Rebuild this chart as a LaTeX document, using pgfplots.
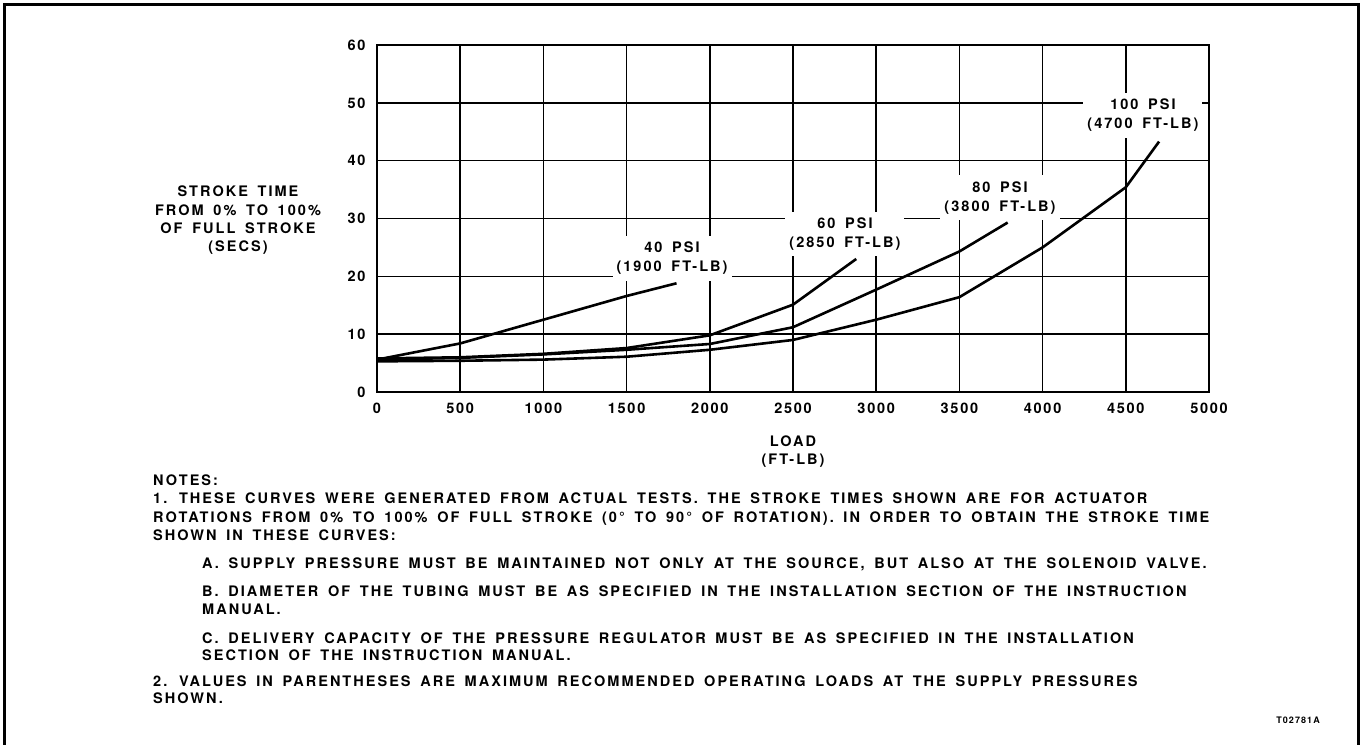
\documentclass[border=0pt]{standalone}
\usepackage{fontspec}
\setmainfont{TeX Gyre Heros}[LetterSpace=14, WordSpace=1.6]
\newfontfamily\tickfont{TeX Gyre Heros}[LetterSpace=12]
\usepackage{pgfplots}
\pgfplotsset{compat=1.18}

\begin{document}
\begin{tikzpicture}[x=1pt,y=1pt]
\useasboundingbox (0,0) rectangle (1362,744);
% frame of the figure (no bottom edge)
\draw[line width=3pt] (4,-5) -- (4,739) -- (1358,739) -- (1358,-5);

\begin{axis}[
  at={(377pt,352pt)}, anchor=south west,
  scale only axis, width=832pt, height=347pt,
  xmin=0, xmax=5000, ymin=0, ymax=60,
  xtick={0,500,...,5000}, ytick={0,10,...,60},
  grid=major, major grid style={black, line width=1.5pt},
  axis line style={line width=1.8pt},
  major tick length=0pt,
  scaled x ticks=false,
  /pgf/number format/assume math mode=true,
  /pgf/number format/set thousands separator={},
  tick label style={font=\fontsize{14.5pt}{16pt}\tickfont\bfseries},
  xticklabel style={yshift=-7pt},
  yticklabel style={xshift=-8pt},
  clip=false,
]
% 40 PSI
\addplot[black, line width=2.6pt, line join=round, no markers] coordinates {(0,5.6) (500,8.4) (1500,16.6) (1800,18.8)};
% 60 PSI
\addplot[black, line width=2.6pt, line join=round, no markers] coordinates {(0,5.8) (500,6.0) (1000,6.6) (1500,7.6) (2000,9.8) (2500,15.1) (2880,23.0)};
% 80 PSI
\addplot[black, line width=2.6pt, line join=round, no markers] coordinates {(0,5.6) (500,5.9) (1000,6.5) (1500,7.3) (2000,8.3) (2500,11.2) (3000,17.7) (3500,24.3) (3790,29.3)};
% 100 PSI
\addplot[black, line width=2.6pt, line join=round, no markers] coordinates {(0,5.3) (500,5.4) (1000,5.6) (1500,6.1) (2000,7.3) (2500,9.0) (3000,12.5) (3500,16.4) (4000,25.0) (4500,35.4) (4700,43.3)};

\tikzset{lbl/.style={fill=white, align=center, inner xsep=4pt, inner ysep=6pt,
  font=\fontsize{14.5pt}{19pt}\selectfont\bfseries}}
\node[lbl] at (axis cs:1773,23.1) {40 PSI\\(1900 FT-LB)};
\node[lbl] at (axis cs:2812,27.3) {60 PSI\\(2850 FT-LB)};
\node[lbl] at (axis cs:3744,33.6) {80 PSI\\(3800 FT-LB)};
\node[lbl] at (axis cs:4603,47.8) {100 PSI\\(4700 FT-LB)};
\end{axis}

\tikzset{txt/.style={font=\fontsize{14.5pt}{18pt}\selectfont\bfseries, inner sep=0pt, anchor=base west},
  ctr/.style={font=\fontsize{14.5pt}{18pt}\selectfont\bfseries, inner sep=0pt, anchor=base}}
% y axis title
\node[ctr] at (238,547) {STROKE TIME};
\node[ctr] at (238,528) {FROM 0\% TO 100\%};
\node[ctr] at (238,510) {OF FULL STROKE};
\node[ctr] at (238,492) {(SECS)};
% x axis title
\node[ctr] at (793,297) {LOAD};
\node[ctr] at (793,279) {(FT-LB)};

% notes
\node[txt] at (153,258) {NOTES:};
\node[txt] at (153,240) {1. THESE CURVES WERE GENERATED FROM ACTUAL TESTS. THE STROKE TIMES SHOWN ARE FOR ACTUATOR};
\node[txt] at (153,221) {ROTATIONS FROM 0\% TO 100\% OF FULL STROKE (0° TO 90° OF ROTATION). IN ORDER TO OBTAIN THE STROKE TIME};
\node[txt] at (153,203) {SHOWN IN THESE CURVES:};
\node[txt] at (202,175) {A. SUPPLY PRESSURE MUST BE MAINTAINED NOT ONLY AT THE SOURCE, BUT ALSO AT THE SOLENOID VALVE.};
\node[txt] at (202,147) {B. DIAMETER OF THE TUBING MUST BE AS SPECIFIED IN THE INSTALLATION SECTION OF THE INSTRUCTION};
\node[txt] at (202,129) {MANUAL.};
\node[txt] at (202,100) {C. DELIVERY CAPACITY OF THE PRESSURE REGULATOR MUST BE AS SPECIFIED IN THE INSTALLATION};
\node[txt] at (202,83) {SECTION OF THE INSTRUCTION MANUAL.};
\node[txt] at (153,57) {2. VALUES IN PARENTHESES ARE MAXIMUM RECOMMENDED OPERATING LOADS AT THE SUPPLY PRESSURES};
\node[txt] at (153,40) {SHOWN.};
\node[font=\fontsize{9pt}{10pt}\tickfont\bfseries, inner sep=0pt, anchor=base east] at (1320,20) {T02781A};
\end{tikzpicture}
\end{document}
